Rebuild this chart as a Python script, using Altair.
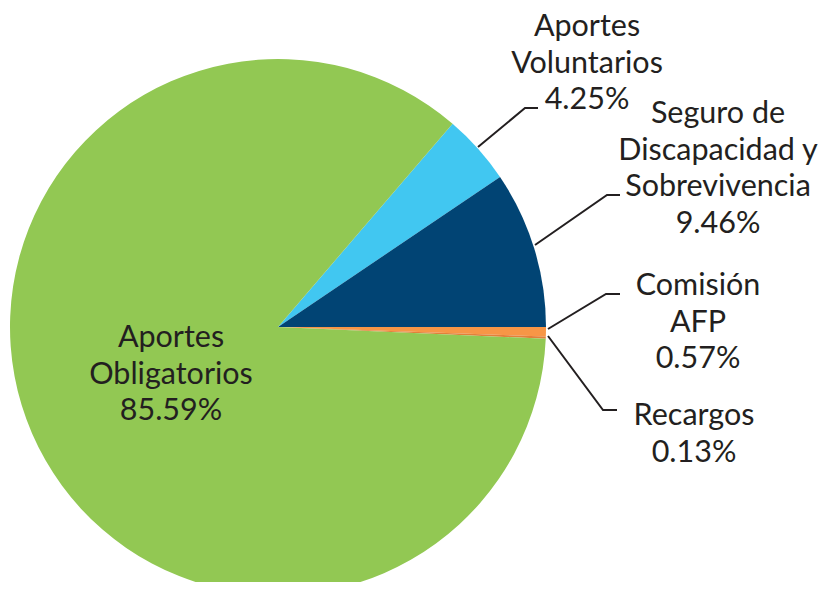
import math
import altair as alt
import pandas as pd

# --- data ---
categories = ["Aportes Voluntarios", "Seguro de Discapacidad y Sobrevivencia",
              "Comisión AFP", "Recargos", "Aportes Obligatorios"]
values = [4.25, 9.46, 0.57, 0.13, 85.59]
colors = ["#41c7f1", "#014474", "#f79646", "#e2803a", "#92c853"]
label_lines = [["Aportes", "Voluntarios"],
               ["Seguro de", "Discapacidad y", "Sobrevivencia"],
               ["Comisión", "AFP"],
               ["Recargos"],
               ["Aportes", "Obligatorios"]]

# --- layout (annotation geometry, pixels within the plot area) ---
W, H = 812, 574
CX, CY, R = 270, 319, 268
label_anchor = [(579, 28), (710, 115), (690, 287), (686, 417), (163, 339)]
line_step = 36.5
leaders = [
    [(470, 139), (517, 100), (530, 100)],
    [(527, 237), (599, 187), (612, 187)],
    [(540, 321), (598, 286), (612, 286)],
    [(540, 328), (595, 402), (609, 402)],
]

df = pd.DataFrame({"cat": categories, "val": values, "ord": list(range(len(categories)))})

# start so that Seguro ends at 3 o'clock
start = math.pi / 2 - (values[0] + values[1]) / sum(values) * 2 * math.pi

pie = alt.Chart(df).mark_arc(radius=R, stroke=None).encode(
    theta=alt.Theta("val:Q", stack=True, scale=alt.Scale(range=[start, start + 2 * math.pi])),
    color=alt.Color("cat:N", scale=alt.Scale(domain=categories, range=colors), legend=None),
    order=alt.Order("ord:Q"),
    x=alt.value(CX),
    y=alt.value(CY),
)

rows = []
for i, (lines, v) in enumerate(zip(label_lines, values)):
    ax, ay = label_anchor[i]
    all_lines = lines + [f"{v:.2f}%"]
    for j, t in enumerate(all_lines):
        rows.append({"t": t, "px": ax, "py": ay + j * line_step})
tdf = pd.DataFrame(rows)

texts = alt.Chart(tdf).mark_text(
    font="Lato", fontSize=30.5, fontWeight=400, color="#231f20",
    align="center", baseline="alphabetic"
).encode(
    x=alt.X("px:Q", scale=None),
    y=alt.Y("py:Q", scale=None),
    text="t:N",
)

lrows = []
for k, pts in enumerate(leaders):
    for j, (px, py) in enumerate(pts):
        lrows.append({"g": k, "o": j, "px": px, "py": py})
ldf = pd.DataFrame(lrows)

lines_chart = alt.Chart(ldf).mark_line(color="#231f20", strokeWidth=2).encode(
    x=alt.X("px:Q", scale=None),
    y=alt.Y("py:Q", scale=None),
    detail="g:N",
    order="o:Q",
)

chart = alt.layer(pie, lines_chart, texts).properties(
    width=W, height=H, autosize=alt.AutoSizeParams(type="none"), padding=0
).configure_view(stroke=None)

chart.save("out.html", embed_options={"renderer": "svg", "actions": False})
